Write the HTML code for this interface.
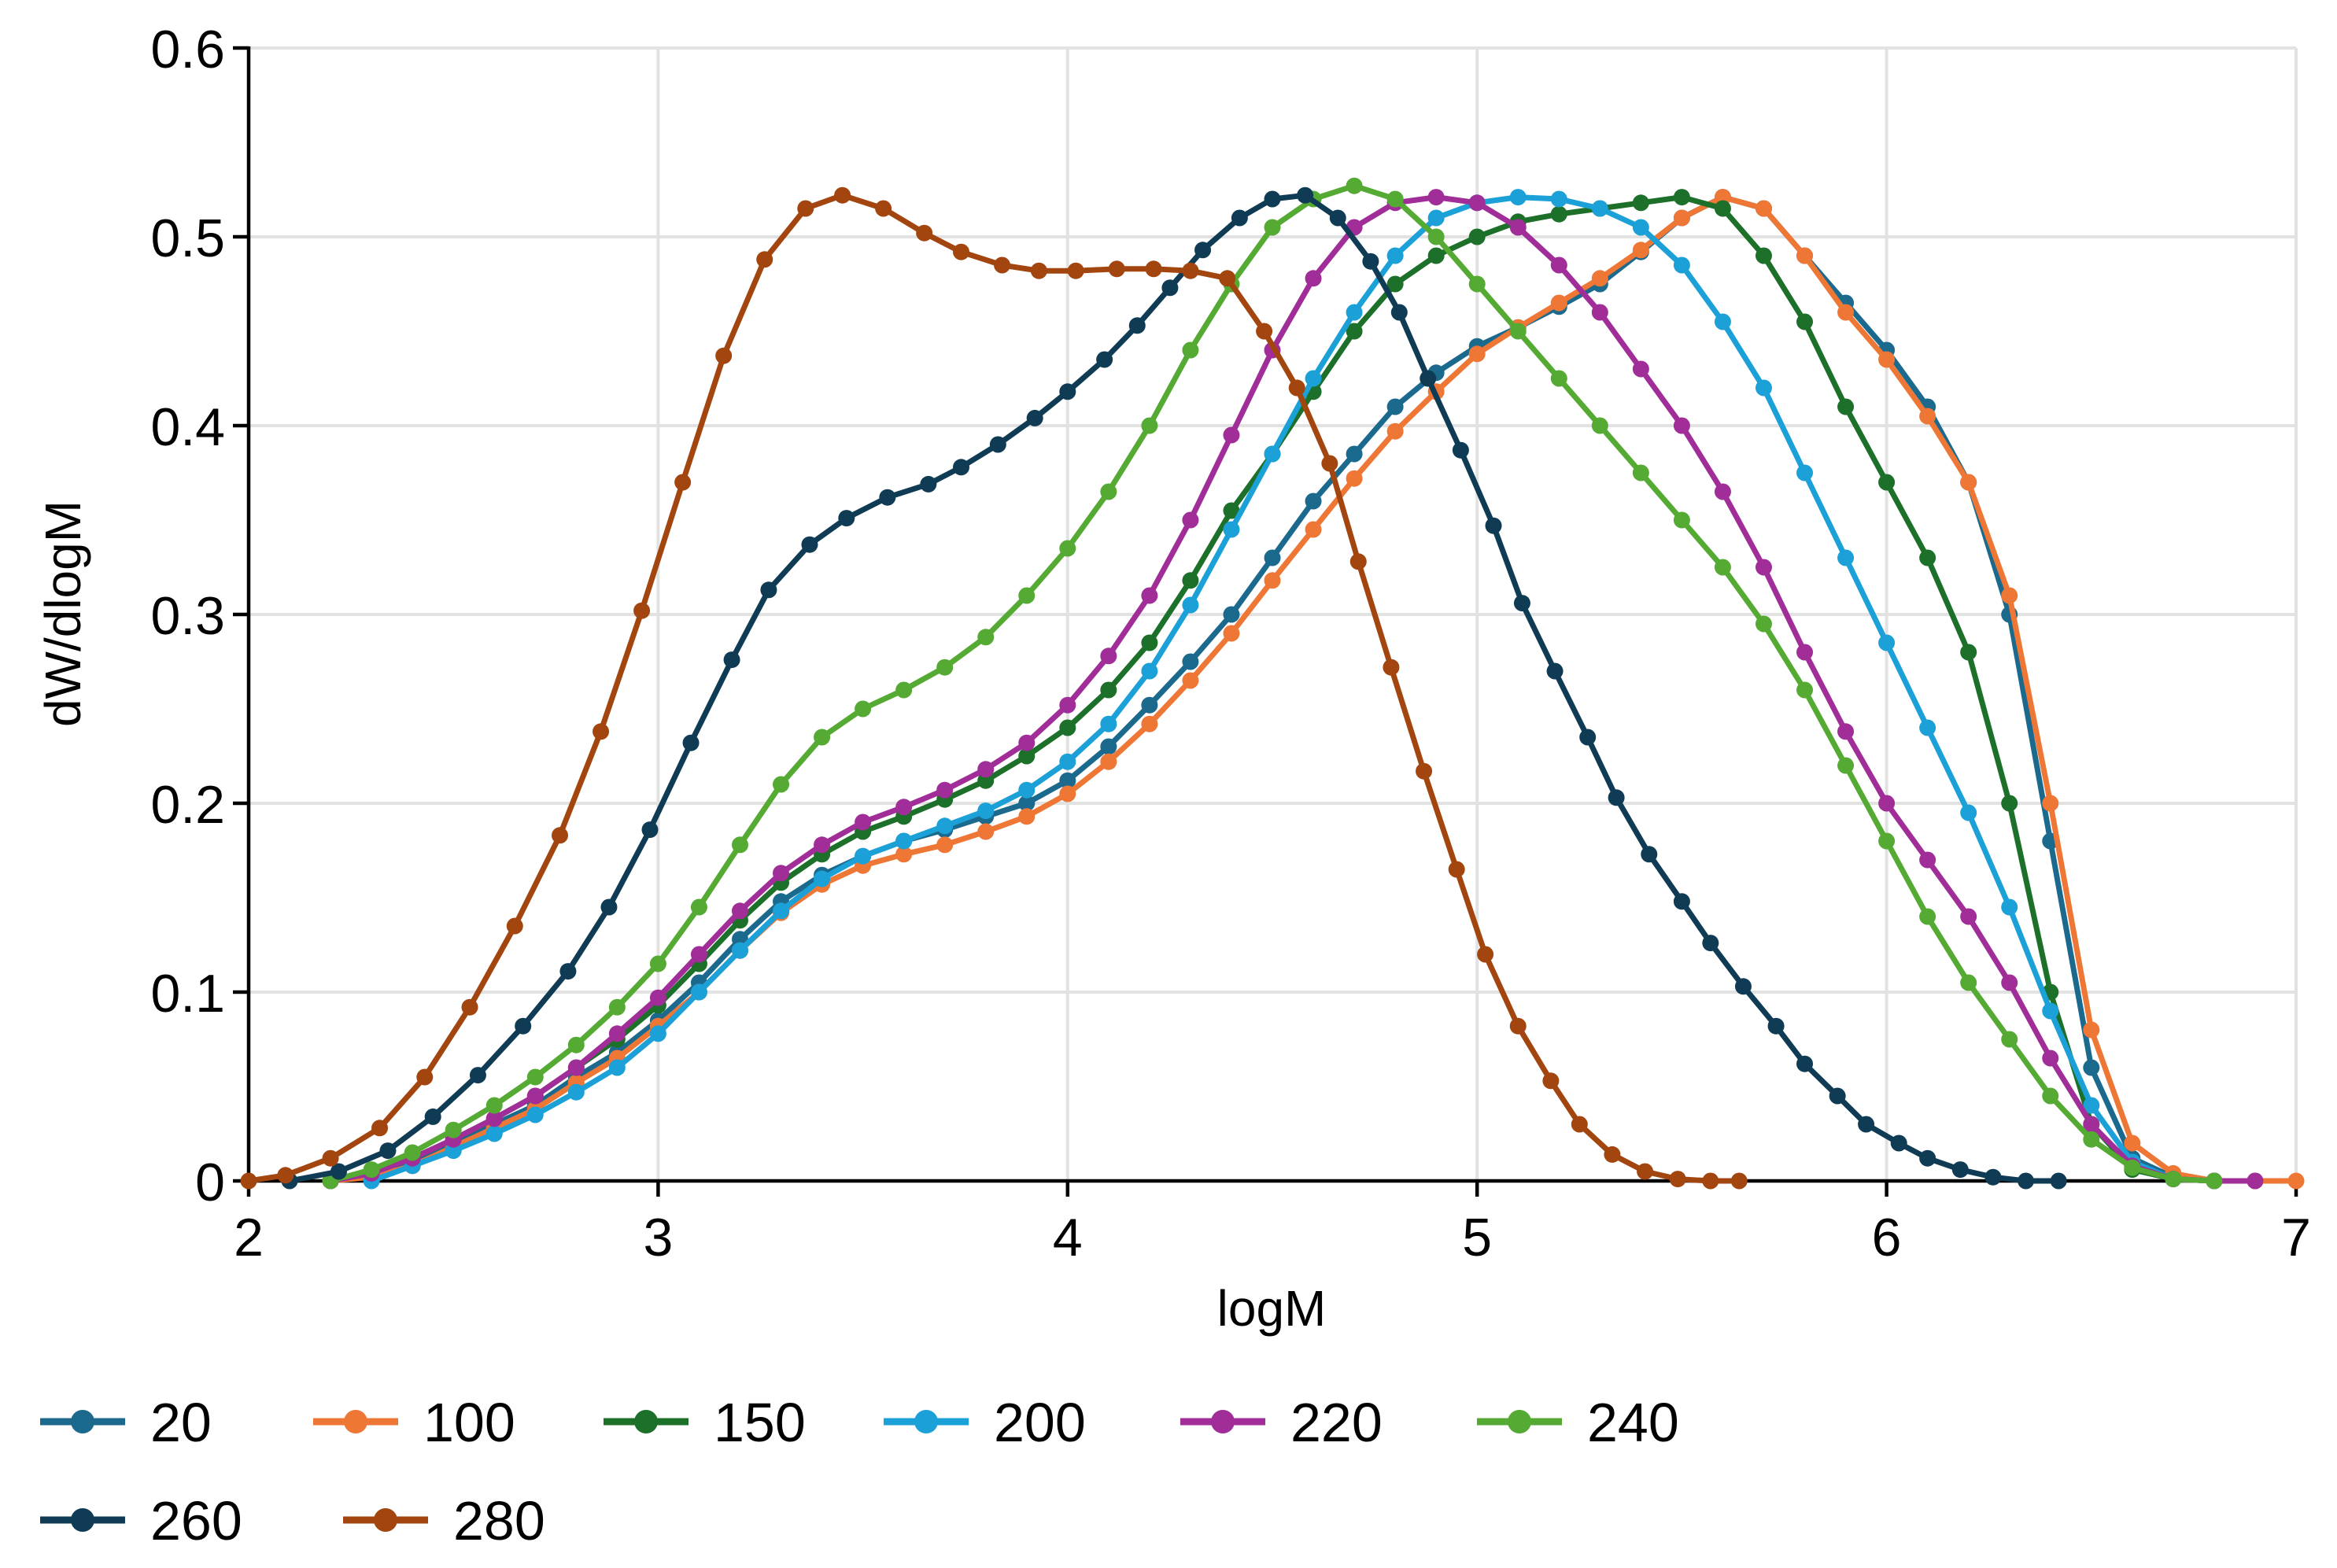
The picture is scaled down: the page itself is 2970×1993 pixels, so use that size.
<!DOCTYPE html>
<html><head><meta charset="utf-8"><style>
html,body{margin:0;padding:0;background:#fff}
svg{display:block;font-family:"Liberation Sans",sans-serif}
</style></head><body>
<svg id="chart" width="2970" height="1993" viewBox="0 0 2970 1993" xmlns="http://www.w3.org/2000/svg">
<g id="grid"></g>
<g id="axes"></g>
<g id="series"></g>
<g id="legend"></g>
<text x="1616" y="1685" font-size="64" text-anchor="middle">logM</text>
<text x="0" y="0" font-size="64" text-anchor="middle" transform="translate(102,780) rotate(-90)">dW/dlogM</text>
</svg>
<script>
const xTicks=[2,3,4,5,6,7];
const yTicks=[0,0.1,0.2,0.3,0.4,0.5,0.6];
const yTickLabels=["0","0.1","0.2","0.3","0.4","0.5","0.6"];
const seriesNames=["20","100","150","200","220","240","260","280"];
const seriesColors=["#1b6a8e","#ee7736","#1c7029","#1ba0d8","#a02d98","#55aa33","#0f3c54","#a3450f"];
const gridX=[2.0,2.1,2.2,2.3,2.4,2.5,2.6,2.7,2.8,2.9,3.0,3.1,3.2,3.3,3.4,3.5,3.6,3.7,3.8,3.9,4.0,4.1,4.2,4.3,4.4,4.5,4.6,4.7,4.8,4.9,5.0,5.1,5.2,5.3,5.4,5.5,5.6,5.7,5.8,5.9,6.0,6.1,6.2,6.3,6.4,6.5,6.6,6.7,6.8,6.9,7.0];
const x20=gridX.slice(2,50);
const y20=[0,0.003,0.01,0.02,0.03,0.04,0.055,0.068,0.085,0.105,0.128,0.148,0.162,0.172,0.18,0.186,0.193,0.2,0.212,0.23,0.252,0.275,0.3,0.33,0.36,0.385,0.41,0.428,0.442,0.452,0.463,0.475,0.492,0.51,0.521,0.515,0.49,0.465,0.44,0.41,0.37,0.3,0.18,0.06,0.012,0.002,0,0];
const x100=gridX.slice(2,51);
const y100=[0,0.002,0.008,0.018,0.028,0.038,0.052,0.065,0.082,0.1,0.122,0.142,0.157,0.167,0.173,0.178,0.185,0.193,0.205,0.222,0.242,0.265,0.29,0.318,0.345,0.372,0.397,0.418,0.438,0.452,0.465,0.478,0.493,0.51,0.521,0.515,0.49,0.46,0.435,0.405,0.37,0.31,0.2,0.08,0.02,0.004,0,0,0];
const x150=gridX.slice(2,49);
const y150=[0,0.005,0.012,0.022,0.033,0.045,0.06,0.075,0.093,0.115,0.138,0.158,0.173,0.185,0.193,0.202,0.212,0.225,0.24,0.26,0.285,0.318,0.355,0.385,0.418,0.45,0.475,0.49,0.5,0.508,0.512,0.515,0.518,0.521,0.515,0.49,0.455,0.41,0.37,0.33,0.28,0.2,0.1,0.03,0.006,0.001,0];
const x200=gridX.slice(3,49);
const y200=[0,0.008,0.016,0.025,0.035,0.047,0.06,0.078,0.1,0.122,0.143,0.16,0.172,0.18,0.188,0.196,0.207,0.222,0.242,0.27,0.305,0.345,0.385,0.425,0.46,0.49,0.51,0.518,0.521,0.52,0.515,0.505,0.485,0.455,0.42,0.375,0.33,0.285,0.24,0.195,0.145,0.09,0.04,0.01,0.001,0];
const x220=gridX.slice(2,50);
const y220=[0,0.004,0.012,0.022,0.033,0.045,0.06,0.078,0.097,0.12,0.143,0.163,0.178,0.19,0.198,0.207,0.218,0.232,0.252,0.278,0.31,0.35,0.395,0.44,0.478,0.505,0.518,0.521,0.518,0.505,0.485,0.46,0.43,0.4,0.365,0.325,0.28,0.238,0.2,0.17,0.14,0.105,0.065,0.03,0.008,0.001,0,0];
const x240=gridX.slice(2,49);
const y240=[0,0.006,0.015,0.027,0.04,0.055,0.072,0.092,0.115,0.145,0.178,0.21,0.235,0.25,0.26,0.272,0.288,0.31,0.335,0.365,0.4,0.44,0.475,0.505,0.52,0.527,0.52,0.5,0.475,0.45,0.425,0.4,0.375,0.35,0.325,0.295,0.26,0.22,0.18,0.14,0.105,0.075,0.045,0.022,0.007,0.001,0];
const x260=[2.1,2.22,2.34,2.45,2.56,2.67,2.78,2.88,2.98,3.08,3.18,3.27,3.37,3.46,3.56,3.66,3.74,3.83,3.92,4.0,4.09,4.17,4.25,4.33,4.42,4.5,4.58,4.66,4.74,4.81,4.88,4.96,5.04,5.11,5.19,5.27,5.34,5.42,5.5,5.57,5.65,5.73,5.8,5.88,5.95,6.03,6.1,6.18,6.26,6.34,6.42];
const y260=[0,0.005,0.016,0.034,0.056,0.082,0.111,0.145,0.186,0.232,0.276,0.313,0.337,0.351,0.362,0.369,0.378,0.39,0.404,0.418,0.435,0.453,0.473,0.493,0.51,0.52,0.522,0.51,0.487,0.46,0.425,0.387,0.347,0.306,0.27,0.235,0.203,0.173,0.148,0.126,0.103,0.082,0.062,0.045,0.03,0.02,0.012,0.006,0.002,0,0];
const x280=[2.0,2.09,2.2,2.32,2.43,2.54,2.65,2.76,2.86,2.96,3.06,3.16,3.26,3.36,3.45,3.55,3.65,3.74,3.84,3.93,4.02,4.12,4.21,4.3,4.39,4.48,4.56,4.64,4.71,4.79,4.87,4.95,5.02,5.1,5.18,5.25,5.33,5.41,5.49,5.57,5.64];
const y280=[0,0.003,0.012,0.028,0.055,0.092,0.135,0.183,0.238,0.302,0.37,0.437,0.488,0.515,0.522,0.515,0.502,0.492,0.485,0.482,0.482,0.483,0.483,0.482,0.478,0.45,0.42,0.38,0.328,0.272,0.217,0.165,0.12,0.082,0.053,0.03,0.014,0.005,0.001,0,0];
const seriesX=[x20,x100,x150,x200,x220,x240,x260,x280];
const seriesY=[y20,y100,y150,y200,y220,y240,y260,y280];

const NS="http://www.w3.org/2000/svg";
const X0=316,X1=2918,Y0=1501,Y1=61;
function sx(v){return X0+(v-2)/5*(X1-X0);}
function sy(v){return Y0-v/0.6*(Y0-Y1);}
function mk(tag,attrs,parent){const e=document.createElementNS(NS,tag);for(const k in attrs)e.setAttribute(k,attrs[k]);parent.appendChild(e);return e;}
const grid=document.getElementById('grid'),axes=document.getElementById('axes'),ser=document.getElementById('series'),leg=document.getElementById('legend');
yTicks.forEach((t,i)=>{
  if(t>0){const g=mk('line',{x1:X0,x2:X1,y1:sy(t),y2:sy(t),stroke:'#e2e2e2','stroke-width':4},grid);
  
  }
  const tk=mk('line',{x1:X0-20,x2:X0,y1:sy(t),y2:sy(t),stroke:'#000','stroke-width':4.5},axes);
  
  
  const lb=mk('text',{x:X0-30,y:sy(t)+25,'font-size':68,'text-anchor':'end'},axes);
  lb.textContent=yTickLabels[i];
  
  
});
xTicks.forEach(t=>{
  if(t>2){const g=mk('line',{x1:sx(t),x2:sx(t),y1:Y1,y2:Y0,stroke:'#e2e2e2','stroke-width':4},grid);
  
  }
  const tk=mk('line',{x1:sx(t),x2:sx(t),y1:Y0,y2:Y0+20,stroke:'#000','stroke-width':4.5},axes);
  
  
  const lb=mk('text',{x:sx(t),y:Y0+95,'font-size':68,'text-anchor':'middle'},axes);
  lb.textContent=String(t);
  
  
});
const ya=mk('line',{x1:X0,x2:X0,y1:Y1-2,y2:Y0+2,stroke:'#000','stroke-width':4.5},axes);


const xa=mk('line',{x1:X0-2,x2:X1,y1:Y0,y2:Y0,stroke:'#000','stroke-width':4.5},axes);



seriesNames.forEach((n,i)=>{
  const g=mk('g',{},ser);
  
  
  const xs=seriesX[i],ys=seriesY[i];
  const pts=xs.map((x,j)=>sx(x).toFixed(1)+','+sy(ys[j]).toFixed(1)).join(' ');
  const pl=mk('polyline',{points:pts,fill:'none',stroke:seriesColors[i],'stroke-width':7,'stroke-linejoin':'round'},g);
  
  
  xs.forEach((x,j)=>{
    const c=mk('circle',{cx:sx(x),cy:sy(ys[j]),r:10.5,fill:seriesColors[i]},g);
    
    
  });
});
const legX=[51,398,767,1123,1500,1877,51,436];
const legRow=[0,0,0,0,0,0,1,1];
const legY=[1807,1932];
seriesNames.forEach((n,i)=>{
  const g=mk('g',{},leg);
  
  
  const y=legY[legRow[i]],x=legX[i];
  mk('line',{x1:x,x2:x+108,y1:y,y2:y,stroke:seriesColors[i],'stroke-width':9},g);
  mk('circle',{cx:x+54,cy:y,r:15,fill:seriesColors[i]},g);
  const t=mk('text',{x:x+140,y:y+25,'font-size':70},g);
  t.textContent=n;
});
</script>
</body></html>
